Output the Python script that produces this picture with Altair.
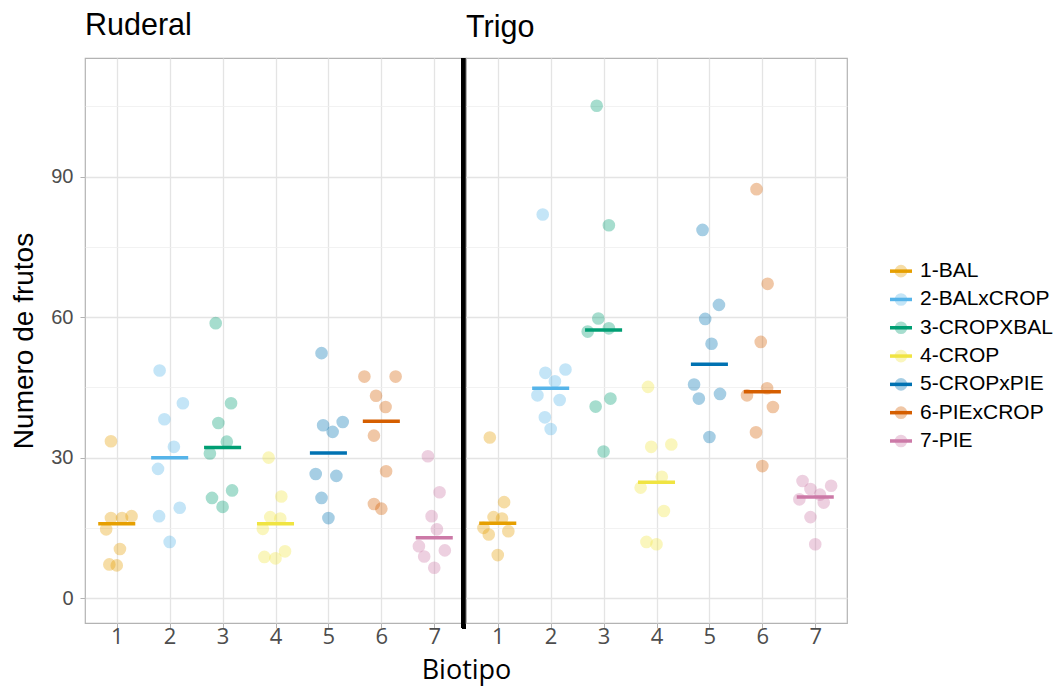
import altair as alt
import pandas as pd

# Biotypes, colours (Okabe-Ito) and fruit counts per plant, 8 plants per biotype
biotipos = ["1-BAL", "2-BALxCROP", "3-CROPXBAL", "4-CROP", "5-CROPxPIE", "6-PIExCROP", "7-PIE"]
colores = ["#E69F00", "#56B4E9", "#009E73", "#F0E442", "#0072B2", "#D55E00", "#CC79A7"]

ruderal_frutos = [
    [33.5, 17.1, 17.1, 17.5, 14.7, 10.5, 7.2, 7.0],
    [48.6, 41.6, 38.2, 32.3, 27.6, 19.3, 17.5, 12.0],
    [58.7, 41.6, 37.4, 33.4, 30.9, 23.0, 21.4, 19.5],
    [30.0, 21.7, 17.3, 17.0, 14.8, 10.0, 8.8, 8.5],
    [52.3, 37.6, 36.9, 35.5, 26.5, 26.1, 21.4, 17.1],
    [47.3, 47.3, 43.2, 40.8, 34.7, 27.1, 20.1, 19.1],
    [30.3, 22.6, 17.5, 14.7, 11.1, 10.2, 8.9, 6.5],
]
ruderal_jitter = [
    [-0.11, -0.11, 0.10, 0.28, -0.20, 0.06, -0.14, 0.0],
    [-0.19, 0.25, -0.10, 0.08, -0.22, 0.19, -0.20, 0.0],
    [-0.13, 0.16, -0.08, 0.08, -0.24, 0.18, -0.20, 0.0],
    [-0.13, 0.11, -0.10, 0.09, -0.24, 0.18, -0.21, 0.0],
    [-0.13, 0.27, -0.10, 0.08, -0.24, 0.15, -0.13, 0.0],
    [-0.32, 0.27, -0.10, 0.08, -0.14, 0.09, -0.14, 0.0],
    [-0.12, 0.10, -0.05, 0.05, -0.29, 0.20, -0.19, 0.0],
]

trigo_frutos = [
    [34.3, 20.5, 17.3, 17.0, 15.0, 14.3, 13.6, 9.2],
    [81.9, 48.8, 48.1, 46.3, 43.3, 42.3, 38.6, 36.1],
    [105.1, 79.6, 59.7, 57.6, 56.9, 42.6, 40.9, 31.3],
    [45.1, 32.8, 32.3, 25.9, 23.6, 18.6, 12.0, 11.5],
    [78.6, 62.6, 59.6, 54.3, 45.6, 43.6, 42.6, 34.4],
    [87.3, 67.1, 54.7, 44.8, 43.3, 40.8, 35.4, 28.2],
    [25.0, 24.0, 23.3, 22.1, 21.1, 20.4, 17.3, 11.5],
]
trigo_jitter = [
    [-0.15, 0.12, -0.08, 0.08, -0.27, 0.20, -0.17, 0.0],
    [-0.15, 0.28, -0.10, 0.08, -0.25, 0.17, -0.11, 0.0],
    [-0.13, 0.10, -0.10, 0.10, -0.30, 0.13, -0.15, 0.0],
    [-0.16, 0.28, -0.10, 0.10, -0.30, 0.14, -0.19, 0.0],
    [-0.13, 0.18, -0.08, 0.04, -0.29, 0.20, -0.20, 0.0],
    [-0.11, 0.10, -0.03, 0.09, -0.29, 0.20, -0.12, 0.0],
    [-0.24, 0.30, -0.09, 0.09, -0.30, 0.16, -0.09, 0.0],
]

y_ticks = [0, 15, 30, 45, 60, 75, 90, 105]
x_ticks = [1, 2, 3, 4, 5, 6, 7]


def tabla(frutos, jitter):
    rows = []
    for i, (vals, jit) in enumerate(zip(frutos, jitter)):
        for v, j in zip(vals, jit):
            rows.append({"grupo": biotipos[i], "num": i + 1, "frutos": v, "jit": j})
    return pd.DataFrame(rows)


PANEL_W = 381
PANEL_H = 565
GRID = "#e4e4e4"
BORDER = "#b3b3b3"
PT_SIZE = 160

color_scale = alt.Scale(domain=biotipos, range=colores)
x_scale = alt.Scale(domain=[0.4, 7.6], nice=False, zero=False)
y_scale = alt.Scale(domain=[-5.3, 115.3], nice=False, zero=False)

major = "datum.value % 30 === 0"
grid_width = {"condition": {"test": major, "value": 1.3}, "value": 0.8}
grid_color = {"condition": {"test": major, "value": GRID}, "value": "#efefef"}


def panel(df, titulo, first):
    if first:
        y_axis = alt.Axis(
            values=y_ticks, labelExpr="datum.value % 30 === 0 ? datum.label : ''",
            title="Numero de frutos", titleFont="Liberation Sans", titleFontSize=28,
            titleFontWeight="normal", titleColor="black", titlePadding=12,
            labelFont="Liberation Sans", labelFontSize=20, labelColor="#4d4d4d",
            labelPadding=7, tickSize=5, tickColor=BORDER,
            tickOpacity={"condition": {"test": major, "value": 1}, "value": 0},
            domain=False, grid=True, gridWidth=grid_width, gridColor=grid_color,
        )
        x_axis = alt.Axis(
            values=x_ticks, format="d", title="Biotipo", titleFont="Open Sans",
            titleFontSize=27, titleFontWeight="normal", titleColor="black",
            titleX=PANEL_W, titleAlign="center", titlePadding=10,
            labelFont="Open Sans", labelFontSize=22, labelColor="#4d4d4d",
            labelPadding=-2, tickSize=5, tickColor=BORDER, domain=False,
            grid=True, gridColor=GRID, gridWidth=1.3,
        )
    else:
        y_axis = alt.Axis(
            values=y_ticks, labels=False, ticks=False, domain=False, title=None,
            grid=True, gridWidth=grid_width, gridColor=grid_color,
            minExtent=0, maxExtent=0,
        )
        x_axis = alt.Axis(
            values=x_ticks, format="d", title=None,
            labelFont="Open Sans", labelFontSize=22, labelColor="#4d4d4d",
            labelPadding=-2, tickSize=5, tickColor=BORDER, domain=False,
            grid=True, gridColor=GRID, gridWidth=1.3,
        )

    base = alt.Chart(df)
    puntos = base.transform_calculate(xpos="datum.num + datum.jit").mark_circle(
        size=PT_SIZE, opacity=0.35
    ).encode(
        x=alt.X("xpos:Q", scale=x_scale, axis=x_axis),
        y=alt.Y("frutos:Q", scale=y_scale, axis=y_axis),
        color=alt.Color("grupo:N", scale=color_scale, legend=None),
    )
    medianas = base.transform_aggregate(
        mediana="median(frutos)", groupby=["grupo", "num"]
    ).transform_calculate(
        x1="datum.num - 0.35", x2="datum.num + 0.35"
    ).mark_rule(strokeWidth=3.5).encode(
        x=alt.X("x1:Q", scale=x_scale, axis=x_axis),
        x2="x2:Q",
        y=alt.Y("mediana:Q", scale=y_scale, axis=y_axis),
        color=alt.Color("grupo:N", scale=color_scale, legend=None),
    )
    capas = [puntos, medianas]
    if first:
        # Thick black divider between the two panels
        divisor = alt.Chart(df).mark_rule(color="black", strokeWidth=4).encode(
            x=alt.datum(7.56), y=alt.datum(115.3), y2=alt.datum(-6.4)
        )
        capas.append(divisor)
    return alt.layer(*capas).properties(
        width=PANEL_W,
        height=PANEL_H,
        title=alt.TitleParams(
            titulo, anchor="start", frame="group", font="Liberation Sans",
            fontSize=30.5, fontWeight="normal", color="black", offset=15,
        ),
    )


izq = panel(tabla(ruderal_frutos, ruderal_jitter), "Ruderal", True)
der = panel(tabla(trigo_frutos, trigo_jitter), "Trigo", False)

# Legend drawn as its own small chart: faint dot + median line + label
ley = pd.DataFrame({"grupo": biotipos, "orden": list(range(len(biotipos)))})
ley_y = alt.Y("orden:Q", scale=alt.Scale(domain=[-7.53, 12.43], reverse=True, nice=False, zero=False), axis=None)
ley_color = alt.Color("grupo:N", scale=color_scale, legend=None)
ley_pts = alt.Chart(ley).mark_circle(size=PT_SIZE, opacity=0.35).encode(
    x=alt.value(11), y=ley_y, color=ley_color
)
ley_lin = alt.Chart(ley).mark_tick(orient="horizontal", size=22, thickness=3.5, opacity=1).encode(
    x=alt.value(11), y=ley_y, color=ley_color
)
ley_txt = alt.Chart(ley).mark_text(
    align="left", baseline="middle", font="Liberation Sans", fontSize=21, color="black"
).encode(x=alt.value(30), y=ley_y, text="grupo:N")
leyenda = alt.layer(ley_pts, ley_lin, ley_txt).properties(
    width=165, height=PANEL_H, view=alt.ViewBackground(stroke=None)
)

paneles = alt.hconcat(izq, der, spacing=0, bounds="flush")
chart = alt.hconcat(paneles, leyenda, spacing=42).properties(
    padding={"left": 10, "top": 9, "right": 0, "bottom": 2},
    background="white",
).configure_view(stroke=BORDER, strokeWidth=1.2)

chart.save("out.html", embed_options={"renderer": "svg", "actions": False})
